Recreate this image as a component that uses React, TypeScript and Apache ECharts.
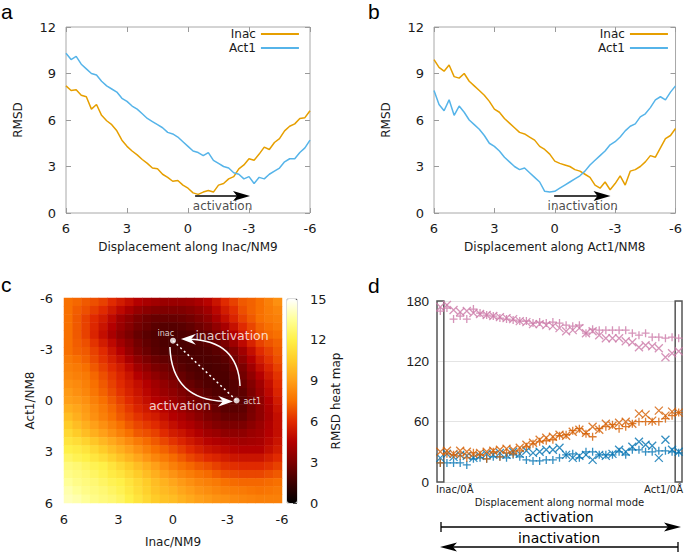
import React, { useEffect, useRef } from "react";
import * as echarts from "echarts";

// ---------------- data ----------------
const disp = [6, 5.75, 5.5, 5.25, 5, 4.75, 4.5, 4.25, 4, 3.75, 3.5, 3.25, 3, 2.75, 2.5, 2.25, 2, 1.75, 1.5, 1.25, 1, 0.75, 0.5, 0.25, 0, -0.25, -0.5, -0.75, -1, -1.25, -1.5, -1.75, -2, -2.25, -2.5, -2.75, -3, -3.25, -3.5, -3.75, -4, -4.25, -4.5, -4.75, -5, -5.25, -5.5, -5.75, -6];

const aInac = [8.2, 7.9, 7.95, 7.6, 7.5, 6.7, 7.0, 6.3, 5.95, 5.7, 5.3, 4.7, 4.3, 4.0, 3.75, 3.45, 3.2, 2.9, 2.85, 2.5, 2.3, 2.05, 2.1, 1.8, 1.6, 1.3, 1.2, 1.35, 1.45, 1.35, 1.8, 1.9, 2.2, 2.35, 2.85, 3.1, 3.5, 3.4, 3.8, 4.25, 4.1, 4.55, 4.8, 5.3, 5.6, 5.75, 6.1, 6.15, 6.6];
const aAct1 = [10.3, 9.9, 10.1, 9.6, 9.3, 9.0, 8.9, 8.5, 8.2, 8.0, 7.8, 7.4, 7.2, 6.9, 6.7, 6.4, 6.1, 5.9, 5.7, 5.5, 5.2, 5.1, 4.9, 4.6, 4.3, 4.0, 3.9, 3.7, 3.9, 3.4, 3.2, 3.0, 2.9, 2.6, 2.5, 2.2, 2.35, 1.9, 2.3, 2.2, 2.5, 2.7, 2.9, 3.3, 3.5, 3.5, 3.9, 4.2, 4.7];
const bInac = [9.9, 9.4, 9.15, 9.55, 8.8, 8.7, 9.0, 8.5, 8.2, 7.9, 7.6, 7.2, 6.7, 6.5, 6.1, 5.8, 5.5, 5.2, 5.1, 4.9, 4.7, 4.3, 4.1, 3.8, 3.35, 3.2, 3.1, 3.0, 2.8, 2.7, 2.5, 2.3, 1.8, 1.6, 2.0, 1.5, 1.9, 2.4, 1.8, 2.7, 2.8, 3.0, 3.3, 3.7, 3.6, 4.2, 4.8, 5.0, 5.45];
const bAct1 = [7.9, 7.0, 6.6, 7.3, 6.3, 6.9, 6.5, 6.0, 5.7, 5.4, 5.0, 4.5, 4.3, 4.0, 3.6, 3.3, 3.0, 2.8, 2.9, 2.6, 2.3, 2.0, 1.4, 1.35, 1.4, 1.6, 1.8, 2.0, 2.2, 2.4, 2.7, 3.1, 3.4, 3.7, 4.0, 4.4, 4.6, 4.9, 5.3, 5.6, 5.75, 6.2, 6.4, 6.8, 7.3, 7.5, 7.3, 7.8, 8.2];

// heat map: columns Inac/NM9 from 6 to -6, rows Act1/NM8 from -6 (top) to 6 (bottom)
const heatAxis = ["6", "5.5", "5", "4.5", "4", "3.5", "3", "2.5", "2", "1.5", "1", "0.5", "0", "-0.5", "-1", "-1.5", "-2", "-2.5", "-3", "-3.5", "-4", "-4.5", "-5", "-5.5", "-6"];
const heatRows = [
  [7.5, 7.3, 7, 6.8, 6.5, 6, 5.5, 5, 4.5, 4.2, 4, 3.8, 3.8, 3.8, 3.9, 4.2, 4.6, 5.2, 6, 6.5, 7, 7.2, 7.5, 8, 8.5],
  [7.5, 7.1, 6.8, 6.4, 6, 5.4, 4.8, 4.2, 3.7, 3.4, 3.2, 3.1, 3.1, 3.1, 3.3, 3.6, 4, 4.7, 5.5, 6.1, 6.8, 7.2, 7.5, 7.9, 8.2],
  [7.5, 7, 6.5, 6, 5.5, 4.8, 4, 3.5, 3, 2.7, 2.5, 2.5, 2.5, 2.6, 2.8, 3.1, 3.5, 4.2, 5, 5.8, 6.5, 7, 7.5, 7.8, 8],
  [7.5, 7, 6.5, 5.9, 5.2, 4.5, 3.8, 3.3, 2.8, 2.5, 2.2, 2.1, 2.1, 2.2, 2.4, 2.7, 3, 3.6, 4.2, 5.1, 6, 6.6, 7.2, 7.5, 7.8],
  [7.5, 7, 6.5, 5.8, 5, 4.2, 3.5, 3, 2.5, 2.2, 2, 1.9, 1.8, 1.9, 2, 2.2, 2.5, 3, 3.5, 4.5, 5.5, 6.3, 7, 7.3, 7.5],
  [7.5, 7.1, 6.8, 6.2, 5.5, 4.8, 4, 3.4, 2.8, 2.4, 2.1, 1.9, 1.8, 1.8, 1.9, 2, 2.2, 2.6, 3, 3.9, 4.8, 5.7, 6.5, 6.9, 7.2],
  [7.5, 7.2, 7, 6.5, 6, 5.2, 4.5, 3.7, 3, 2.6, 2.2, 2, 1.8, 1.8, 1.8, 1.9, 2, 2.2, 2.5, 3.2, 4, 5, 6, 6.5, 7],
  [7.8, 7.5, 7.2, 6.7, 6.2, 5.6, 5, 4.2, 3.5, 3, 2.6, 2.4, 2.2, 2, 1.9, 1.9, 1.9, 2, 2.2, 2.8, 3.5, 4.5, 5.5, 6.2, 6.8],
  [8, 7.8, 7.5, 7, 6.5, 6, 5.5, 4.8, 4, 3.5, 3, 2.8, 2.5, 2.2, 2, 1.9, 1.8, 1.9, 2, 2.5, 3, 4, 5, 5.8, 6.5],
  [8.2, 8, 7.8, 7.3, 6.8, 6.3, 5.8, 5.2, 4.5, 4, 3.5, 3.1, 2.8, 2.5, 2.2, 2, 1.9, 1.9, 1.9, 2.3, 2.8, 3.6, 4.5, 5.4, 6.2],
  [8.5, 8.3, 8, 7.5, 7, 6.5, 6, 5.5, 5, 4.5, 4, 3.6, 3.2, 2.8, 2.5, 2.2, 2, 1.9, 1.8, 2.1, 2.5, 3.2, 4, 5, 6],
  [8.8, 8.5, 8.2, 7.7, 7.2, 6.7, 6.2, 5.7, 5.2, 4.7, 4.2, 3.8, 3.5, 3.1, 2.8, 2.5, 2.2, 2, 1.9, 2.1, 2.3, 3, 3.8, 4.8, 5.8],
  [9, 8.8, 8.5, 8, 7.5, 7, 6.5, 6, 5.5, 5, 4.5, 4.2, 3.8, 3.4, 3, 2.8, 2.5, 2.2, 2, 2.1, 2.2, 2.8, 3.5, 4.5, 5.5],
  [9.5, 9.2, 8.8, 8.3, 7.8, 7.3, 6.8, 6.3, 5.8, 5.4, 5, 4.6, 4.2, 3.8, 3.4, 3.1, 2.8, 2.5, 2.2, 2.2, 2.3, 2.9, 3.5, 4.3, 5.2],
  [10, 9.5, 9, 8.5, 8, 7.5, 7, 6.6, 6.2, 5.8, 5.5, 5, 4.5, 4.2, 3.8, 3.4, 3, 2.8, 2.5, 2.5, 2.5, 3, 3.5, 4.2, 5],
  [10.5, 10, 9.5, 9, 8.5, 8, 7.5, 7, 6.6, 6.3, 6, 5.5, 5, 4.6, 4.3, 3.9, 3.5, 3.2, 3, 3, 3, 3.4, 3.8, 4.4, 5],
  [11, 10.5, 10, 9.5, 9, 8.5, 8, 7.5, 7, 6.8, 6.5, 6, 5.5, 5.2, 4.8, 4.4, 4, 3.8, 3.5, 3.5, 3.5, 3.8, 4, 4.5, 5],
  [11.5, 11.2, 10.8, 10.3, 9.8, 9.3, 8.8, 8.3, 7.8, 7.4, 7, 6.6, 6.2, 5.8, 5.4, 5, 4.6, 4.4, 4.2, 4.1, 4, 4.1, 4.2, 4.7, 5.2],
  [12, 11.8, 11.5, 11, 10.5, 10, 9.5, 9, 8.5, 8, 7.5, 7.2, 6.8, 6.4, 6, 5.6, 5.2, 5, 4.8, 4.6, 4.5, 4.5, 4.5, 5, 5.5],
  [12.5, 12.2, 12, 11.6, 11.2, 10.7, 10.2, 9.7, 9.2, 8.7, 8.2, 7.8, 7.4, 7, 6.6, 6.3, 6, 5.8, 5.5, 5.3, 5.2, 5.2, 5.2, 5.6, 6],
  [13, 12.8, 12.5, 12.2, 12, 11.5, 11, 10.5, 10, 9.5, 9, 8.5, 8, 7.6, 7.3, 7, 6.8, 6.5, 6.2, 6.1, 6, 6, 6, 6.2, 6.5],
  [13.2, 13, 12.8, 12.5, 12.2, 11.8, 11.5, 11, 10.5, 10, 9.5, 9, 8.6, 8.2, 7.9, 7.6, 7.4, 7.1, 6.8, 6.7, 6.6, 6.6, 6.6, 6.8, 7],
  [13.5, 13.2, 13, 12.8, 12.5, 12.2, 12, 11.5, 11, 10.5, 10, 9.6, 9.2, 8.8, 8.5, 8.2, 8, 7.8, 7.5, 7.4, 7.3, 7.3, 7.3, 7.4, 7.5],
  [13.8, 13.5, 13.2, 13, 12.8, 12.5, 12.2, 11.7, 11.2, 10.7, 10.2, 9.9, 9.6, 9.2, 8.9, 8.6, 8.4, 8.2, 8, 7.9, 7.8, 7.7, 7.6, 7.7, 7.8],
  [14, 13.8, 13.5, 13.2, 13, 12.8, 12.5, 12, 11.5, 11, 10.5, 10.2, 10, 9.6, 9.3, 9, 8.8, 8.6, 8.5, 8.3, 8.2, 8.1, 8, 8, 8],
];

// panel d angles (degrees), frames from Inac/0Å to Act1/0Å
const rollAct1 = [174, 176, 171, 169, 170, 168, 167, 166, 165, 164, 163, 162, 160, 159, 157, 157, 156, 155, 153, 150, 151, 153, 148, 150, 146, 143, 143, 143, 140, 139, 134, 136, 135, 133, 124, 128, 130];
const rollInac = [170, 173, 162, 165, 162, 172, 168, 166, 165, 163, 162, 161, 160, 160, 158, 159, 158, 159, 158, 156, 155, 156, 148, 152, 151, 151, 151, 151, 151, 148, 146, 148, 144, 144, 143, 144, 143];
const twistAct1 = [24, 28, 25, 27, 26, 24, 26, 28, 27, 29, 27, 30, 28, 31, 29, 30, 32, 32, 34, 27, 24, 26, 27, 22, 27, 26, 28, 32, 30, 35, 40, 37, 36, 24, 42, 32, 30];
const twistInac = [19, 19, 19, 19, 17, 23, 24, 23, 25, 25, 24, 27, 25, 22, 21, 21, 22, 22, 24, 27, 28, 24, 30, 30, 27, 27, 27, 30, 27, 32, 32, 30, 30, 31, 31, 30, 29];
const tiltAct1 = [30, 31, 28, 31, 30, 28, 29, 30, 31, 32, 33, 32, 34, 37, 39, 42, 44, 45, 47, 46, 50, 52, 49, 55, 52, 58, 56, 59, 60, 58, 68, 67, 61, 71, 66, 70, 69];
const tiltInac = [19, 28, 27, 26, 24, 29, 27, 23, 30, 25, 29, 28, 31, 35, 38, 40, 41, 42, 46, 47, 51, 53, 48, 45, 53, 55, 57, 53, 55, 58, 60, 60, 60, 60, 63, 66, 69];

// annotations (data coordinates)
const arrowA = { from: [-0.35, 1.1], to: [-3.05, 1.1] };
const arrowB = { from: [0.03, 1.1], to: [-2.77, 1.1] };
const inacPt = [0, -3.5];
const act1Pt = [-3.5, 0];
const arcInact = { start: [-3.69, -0.85], ctrl: [-3.58, -3.54], end: [-0.44, -3.6] };
const arcAct = { start: [0.17, -3.13], ctrl: [0.06, -0.03], end: [-3.3, 0.06] };

// ---------------- styles ----------------
const DV = "DejaVu Sans";
const LS = "Liberation Sans";
const C_INAC = "#E69F00";
const C_ACT1 = "#56B4E9";
const C_ROLL = "#CC79A7";
const C_TWIST = "#0072B2";
const C_TILT = "#D55E00";
const TICK = "#9a9a9a";
const TXT = "#1a1a1a";
const CROSS = "path://M0,0L10,10M10,0L0,10";
const PLUS = "path://M5,0L5,10M0,5L10,5";
const HEAT_COLORS = ["#000000", "#3c0000", "#7c0000", "#b40000", "#e02a00", "#f87000", "#ffa018", "#ffcc28", "#fff048", "#ffff98", "#ffffff"];

const nameStyle = { fontFamily: DV, fontSize: 12, color: TXT };
const labelStyle = { fontFamily: DV, fontSize: 13, color: TXT };
const noLine = { show: false, onZero: false };

function frameX(grid: number, name: string | null, bottom: boolean): any {
  return {
    type: "value", gridIndex: grid, min: -6, max: 6, interval: 3, inverse: true,
    position: bottom ? "bottom" : "top",
    axisLine: noLine,
    axisTick: { show: true, inside: true, length: 5, lineStyle: { color: TICK } },
    axisLabel: bottom ? { ...labelStyle, margin: 9 } : { show: false },
    splitLine: { show: false },
    ...(name ? { name, nameLocation: "middle", nameGap: 28, nameTextStyle: nameStyle } : {}),
  };
}
function frameY(grid: number, left: boolean): any {
  return {
    type: "value", gridIndex: grid, min: 0, max: 12, interval: 3,
    position: left ? "left" : "right",
    axisLine: noLine,
    axisTick: { show: true, inside: true, length: 5, lineStyle: { color: TICK } },
    axisLabel: left ? { ...labelStyle, margin: 10 } : { show: false },
    splitLine: { show: false },
    ...(left ? { name: "RMSD", nameLocation: "middle", nameGap: 42, nameRotate: 90, nameTextStyle: nameStyle } : {}),
  };
}

function pairs(xs: number[], ys: number[]) {
  return ys.map((v, i) => [xs[i], v]);
}
function indexed(ys: number[]) {
  return ys.map((v, i) => [i, v]);
}

function buildOption(): any {
  const heatData: any[] = [];
  heatRows.forEach((row, r) => {
    row.forEach((v, c) => heatData.push([c, heatRows.length - 1 - r, v]));
  });

  const lineSeries = (name: string, xi: number, data: number[], color: string) => ({
    type: "line", name, xAxisIndex: xi, yAxisIndex: xi, data: pairs(disp, data),
    color, symbol: "none", lineStyle: { color, width: 1.5 }, silent: true, z: 3,
  });

  const dSeries = (name: string, data: number[], color: string, sym: string, size: number) => ({
    type: "scatter", name, xAxisIndex: 7, yAxisIndex: 7, data: indexed(data),
    symbol: sym, symbolSize: size, silent: true,
    itemStyle: { color: "rgba(0,0,0,0)", borderColor: color, borderWidth: 1.3 },
  });

  const legendBase = {
    data: ["Inac", "Act1"], orient: "vertical", align: "right", icon: "rect",
    itemWidth: 38, itemHeight: 2, itemGap: 2, padding: 0, selectedMode: false,
    textStyle: { fontFamily: DV, fontSize: 12, color: TXT },
  };

  return {
    animation: false,
    backgroundColor: "#ffffff",
    grid: [
      { left: 66, top: 27, width: 244, height: 186, show: true, borderColor: "#a8a8a8", borderWidth: 1 },
      { left: 434, top: 27, width: 245, height: 186, show: true, borderColor: "#a8a8a8", borderWidth: 1 },
      { left: 64, top: 298, width: 218, height: 205 },
      { left: 64, top: 298, width: 218, height: 205 },
      { left: 287, top: 299, width: 10, height: 204, show: true, borderColor: "#bbbbbb", borderWidth: 1 },
      { left: 437, top: 301, width: 245, height: 181 },
    ],
    legend: [
      { ...legendBase, left: 229, top: 28 },
      { ...legendBase, left: 598, top: 28 },
    ],
    xAxis: [
      frameX(0, "Displacement along Inac/NM9", true),
      frameX(0, null, false),
      frameX(1, "Displacement along Act1/NM8", true),
      frameX(1, null, false),
      { type: "category", gridIndex: 2, data: heatAxis, show: false, axisLine: noLine },
      {
        type: "value", gridIndex: 3, min: -6, max: 6, interval: 3, inverse: true, position: "bottom",
        axisLine: noLine, axisTick: { show: false }, splitLine: { show: false },
        axisLabel: { ...labelStyle, margin: 10 },
        name: "Inac/NM9", nameLocation: "middle", nameGap: 33, nameTextStyle: nameStyle,
      },
      { type: "value", gridIndex: 4, min: 0, max: 1, show: false, axisLine: noLine },
      {
        type: "value", gridIndex: 5, min: -0.5, max: 36.5, position: "bottom",
        axisLine: noLine, axisTick: { show: false }, axisLabel: { show: false }, splitLine: { show: false },
        name: "Displacement along normal mode", nameLocation: "middle", nameGap: 15,
        nameTextStyle: { fontFamily: DV, fontSize: 10, color: TXT },
      },
    ],
    yAxis: [
      frameY(0, true),
      frameY(0, false),
      frameY(1, true),
      frameY(1, false),
      { type: "category", gridIndex: 2, data: heatAxis, show: false, axisLine: noLine },
      {
        type: "value", gridIndex: 3, min: -6, max: 6, interval: 3, inverse: true, position: "left",
        axisLine: noLine, axisTick: { show: false }, splitLine: { show: false },
        axisLabel: { ...labelStyle, margin: 11 },
        name: "Act1/NM8", nameLocation: "middle", nameGap: 26, nameRotate: 90, nameTextStyle: nameStyle,
      },
      {
        type: "value", gridIndex: 4, min: 0, max: 15, interval: 3, position: "right",
        axisLine: noLine, splitLine: { show: false },
        axisTick: { show: true, inside: true, length: 4, lineStyle: { color: "#444" } },
        axisLabel: { ...labelStyle, margin: 13 },
        name: "RMSD heat map", nameLocation: "middle", nameGap: 32, nameRotate: 90, nameTextStyle: nameStyle,
      },
      {
        type: "value", gridIndex: 5, min: 0, max: 180, interval: 60, position: "left",
        axisLine: noLine, axisTick: { show: false },
        axisLabel: { fontFamily: LS, fontSize: 13.5, color: TXT, margin: 8 },
        splitLine: { show: true, lineStyle: { color: "#e4e4e4", width: 1 } },
      },
    ],
    visualMap: {
      type: "continuous", seriesIndex: 6, min: 0, max: 15, calculable: false,
      orient: "vertical", left: 287, top: 299, itemWidth: 10, itemHeight: 204, padding: 0,
      inRange: { color: HEAT_COLORS }, showLabel: false,
    },
    series: [
      lineSeries("Inac", 0, aInac, C_INAC),
      lineSeries("Act1", 0, aAct1, C_ACT1),
      lineSeries("Inac", 2, bInac, C_INAC),
      lineSeries("Act1", 2, bAct1, C_ACT1),
      {
        type: "scatter", name: "noteA", xAxisIndex: 0, yAxisIndex: 0, symbolSize: 0, silent: true,
        data: [{ value: [-1.7, 0.45], name: "activation" }],
        label: { show: true, position: "inside", formatter: "{b}", fontFamily: DV, fontSize: 12, color: TXT },
      },
      {
        type: "scatter", name: "noteB", xAxisIndex: 2, yAxisIndex: 2, symbolSize: 0, silent: true,
        data: [{ value: [-1.39, 0.45], name: "inactivation" }],
        label: { show: true, position: "inside", formatter: "{b}", fontFamily: DV, fontSize: 12, color: TXT },
      },
      {
        type: "heatmap", name: "heat", xAxisIndex: 4, yAxisIndex: 4, data: heatData,
        progressive: 0, silent: true, itemStyle: { borderWidth: 0 },
      },
      {
        type: "scatter", name: "states", xAxisIndex: 5, yAxisIndex: 5, symbol: "circle", symbolSize: 6,
        itemStyle: { color: "#ffffff" }, silent: true, z: 5,
        data: [inacPt, act1Pt],
      },
      {
        type: "scatter", name: "cnotes", xAxisIndex: 5, yAxisIndex: 5, symbolSize: 0, silent: true, z: 5,
        label: { show: true, position: "inside", formatter: "{b}", fontFamily: DV, color: "#ffffff" },
        data: [
          { value: [0.4, -3.93], name: "inac", label: { fontSize: 8 } },
          { value: [-4.36, 0.07], name: "act1", label: { fontSize: 8 } },
          { value: [-3.25, -3.83], name: "inactivation", label: { fontSize: 12.5 } },
          { value: [-0.38, 0.32], name: "activation", label: { fontSize: 12.5 } },
        ],
      },
      { type: "scatter", name: "cb", xAxisIndex: 6, yAxisIndex: 6, data: [], silent: true },
      {
        ...dSeries("rollAct1", rollAct1, C_ROLL, CROSS, 8),
        markArea: {
          silent: true,
          itemStyle: { color: "rgba(0,0,0,0)", borderColor: "#555555", borderWidth: 1.5 },
          data: [
            [{ xAxis: -0.53, yAxis: 0 }, { xAxis: 0.53, yAxis: 180 }],
            [{ xAxis: 35.47, yAxis: 0 }, { xAxis: 36.53, yAxis: 180 }],
          ],
        },
      },
      dSeries("rollInac", rollInac, C_ROLL, PLUS, 8),
      dSeries("twistAct1", twistAct1, C_TWIST, CROSS, 8),
      dSeries("twistInac", twistInac, C_TWIST, PLUS, 8),
      dSeries("tiltAct1", tiltAct1, C_TILT, CROSS, 8),
      dSeries("tiltInac", tiltInac, C_TILT, PLUS, 8),
    ],
  };
}

function headPoints(tip: number[], dir: number[], len: number, half: number, notch: number) {
  const px = -dir[1], py = dir[0];
  return [
    [tip[0], tip[1]],
    [tip[0] - dir[0] * len + px * half, tip[1] - dir[1] * len + py * half],
    [tip[0] - dir[0] * notch, tip[1] - dir[1] * notch],
    [tip[0] - dir[0] * len - px * half, tip[1] - dir[1] * len - py * half],
  ];
}
function unit(a: number[], b: number[]) {
  const dx = b[0] - a[0], dy = b[1] - a[1];
  const l = Math.hypot(dx, dy) || 1;
  return [dx / l, dy / l];
}

function buildGraphics(chart: any): any[] {
  const toPx = (xi: number, pt: number[]) => chart.convertToPixel({ xAxisIndex: xi, yAxisIndex: xi }, pt);
  const g: any[] = [];
  const text = (t: string, x: number, y: number, font: string, fill: string, align = "left") =>
    g.push({ type: "text", x, y, z: 100, silent: true, style: { text: t, font, fill, align, verticalAlign: "middle" } });

  // panel letters
  text("a", 1, 11, `21px "${LS}"`, "#000");
  text("b", 368, 11, `21px "${LS}"`, "#000");
  text("c", 1, 284, `21px "${LS}"`, "#000");
  text("d", 368, 285, `21px "${LS}"`, "#000");

  // arrows in a and b
  [[0, arrowA], [2, arrowB]].forEach(([xi, arr]: any) => {
    const p0 = toPx(xi, arr.from);
    const p1 = toPx(xi, arr.to);
    const d = unit(p0, p1);
    g.push({ type: "line", z: 100, silent: true, shape: { x1: p0[0], y1: p0[1], x2: p1[0] - d[0] * 12, y2: p1[1] - d[1] * 12 }, style: { stroke: "#000", lineWidth: 1.6 } });
    g.push({ type: "polygon", z: 100, silent: true, shape: { points: headPoints(p1, d, 17, 5, 13) }, style: { fill: "#000" } });
  });

  // panel c annotations
  const ip = toPx(5, inacPt);
  const ap = toPx(5, act1Pt);
  g.push({ type: "line", z: 100, silent: true, shape: { x1: ip[0], y1: ip[1], x2: ap[0], y2: ap[1] }, style: { stroke: "#fff", lineWidth: 1.5, lineDash: [2, 3] } });
  [arcInact, arcAct].forEach((arc) => {
    const s = toPx(5, arc.start), c = toPx(5, arc.ctrl), e = toPx(5, arc.end);
    const d = unit(c, e);
    const eb = [e[0] - d[0] * 8, e[1] - d[1] * 8];
    g.push({ type: "bezierCurve", z: 100, silent: true, shape: { x1: s[0], y1: s[1], cpx1: c[0], cpy1: c[1], x2: eb[0], y2: eb[1] }, style: { stroke: "#fff", lineWidth: 1.5, fill: null } });
    g.push({ type: "polygon", z: 100, silent: true, shape: { points: headPoints(e, d, 15, 5.5, 10) }, style: { fill: "#fff" } });
  });

  // panel d axis labels and arrows
  text("Inac/0Å", 436, 489, `10px "${DV}"`, TXT, "left");
  text("Act1/0Å", 683, 489, `10px "${DV}"`, TXT, "right");
  text("activation", 559, 517, `14px "${DV}"`, "#000", "center");
  text("inactivation", 559, 538, `14px "${DV}"`, "#000", "center");
  const ls = { stroke: "#000", lineWidth: 1.3 };
  g.push({ type: "line", z: 100, silent: true, shape: { x1: 441, y1: 527, x2: 668, y2: 527 }, style: ls });
  g.push({ type: "line", z: 100, silent: true, shape: { x1: 441, y1: 522, x2: 441, y2: 532 }, style: ls });
  g.push({ type: "polygon", z: 100, silent: true, shape: { points: headPoints([681, 527], [1, 0], 17, 4.5, 13) }, style: { fill: "#000" } });
  g.push({ type: "line", z: 100, silent: true, shape: { x1: 453, y1: 547, x2: 678, y2: 547 }, style: ls });
  g.push({ type: "line", z: 100, silent: true, shape: { x1: 678, y1: 542, x2: 678, y2: 552 }, style: ls });
  g.push({ type: "polygon", z: 100, silent: true, shape: { points: headPoints([440, 547], [-1, 0], 17, 4.5, 13) }, style: { fill: "#000" } });
  return g;
}

export default function App() {
  const ref = useRef<HTMLDivElement>(null);
  useEffect(() => {
    document.body.style.margin = "0";
    const chart = echarts.init(ref.current as HTMLDivElement, null, { renderer: "svg" });
    chart.setOption(buildOption());
    chart.setOption({ graphic: buildGraphics(chart) });
    return () => chart.dispose();
  }, []);
  return <div ref={ref} style={{ width: 685, height: 552, background: "#fff" }} />;
}
